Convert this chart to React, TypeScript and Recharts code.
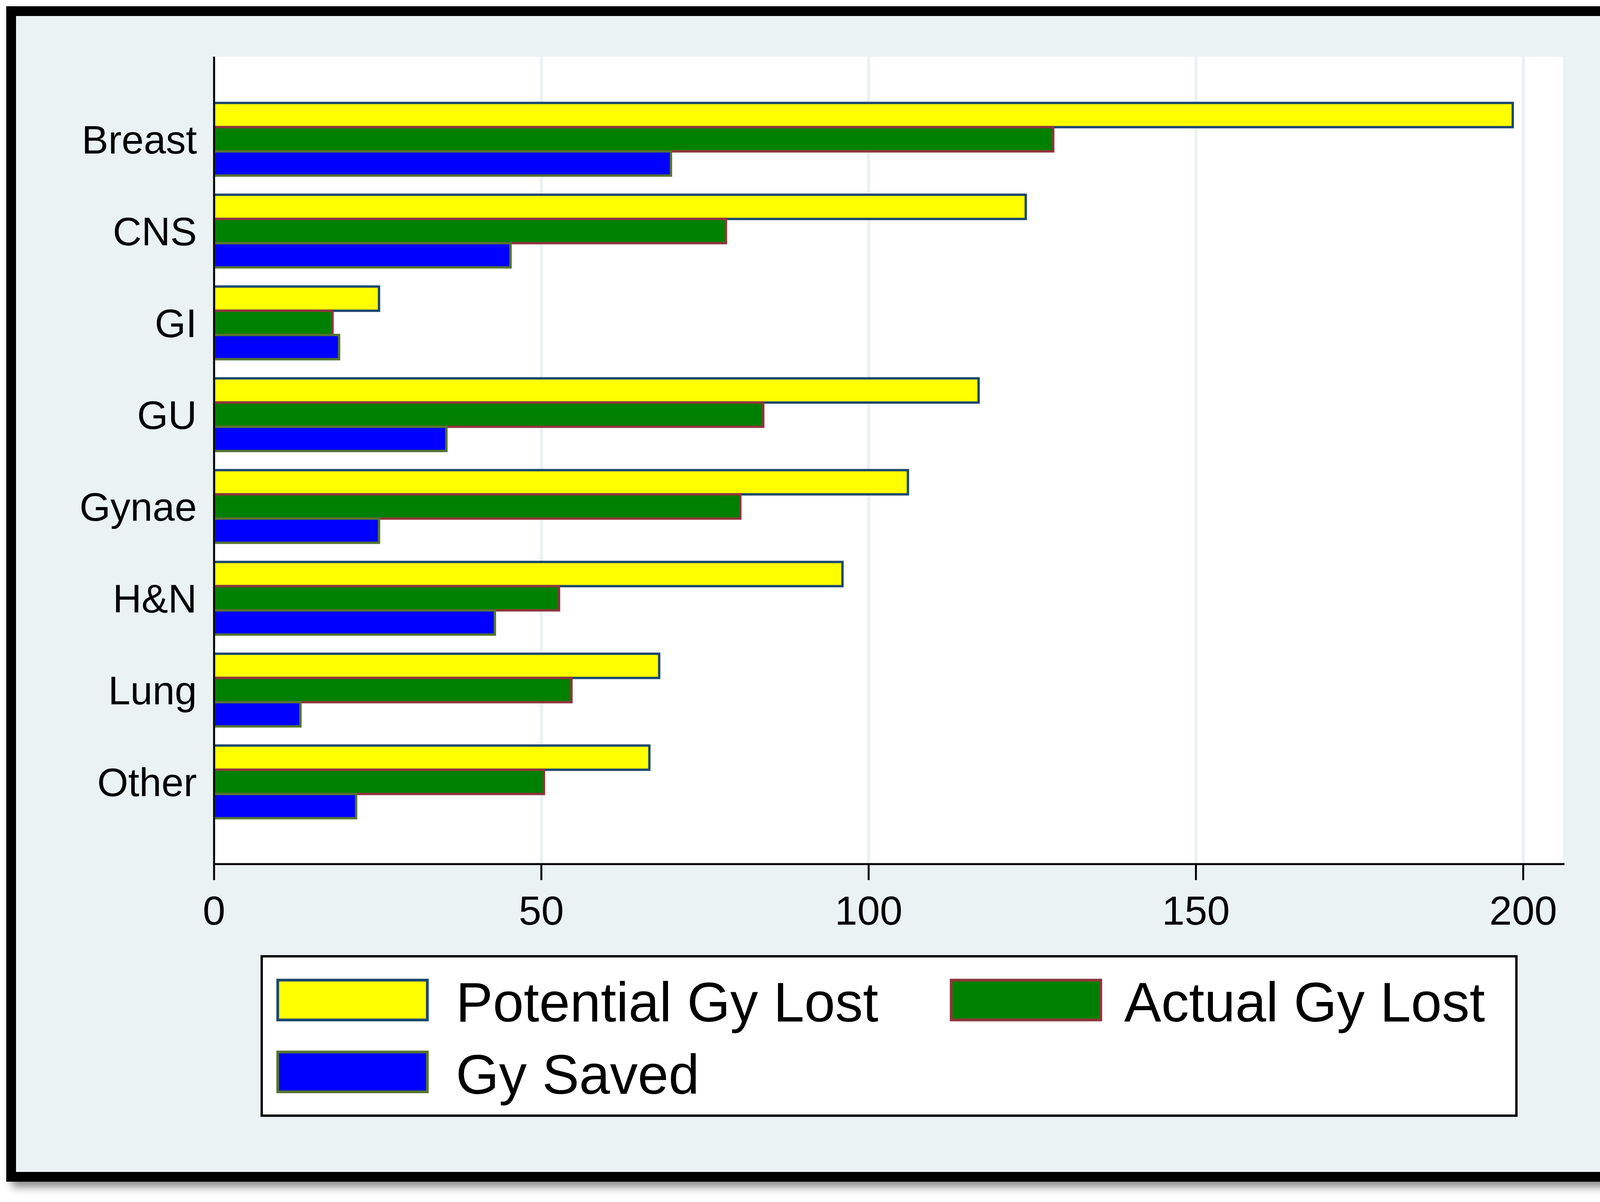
import React from "react"
import {
  BarChart,
  Bar,
  XAxis,
  YAxis,
  CartesianGrid,
  Legend,
} from "recharts"

const categories = ["Breast", "CNS", "GI", "GU", "Gynae", "H&N", "Lung", "Other"]
const potentialGyLost = [198.4, 124.0, 25.2, 116.8, 106.0, 96.0, 68.0, 66.5]
const actualGyLost = [128.2, 78.2, 18.1, 83.9, 80.4, 52.7, 54.6, 50.4]
const gySaved = [69.8, 45.3, 19.1, 35.5, 25.2, 42.9, 13.2, 21.7]
const xTicks = [0, 50, 100, 150, 200]

const FONT = '"Liberation Sans", Arial, Helvetica, sans-serif'
const BG = "#eaf2f3"

const SERIES = [
  { key: "potential", name: "Potential Gy Lost", fill: "#ffff00", stroke: "#1a476f" },
  { key: "actual", name: "Actual Gy Lost", fill: "#008000", stroke: "#90353b" },
  { key: "saved", name: "Gy Saved", fill: "#0000ff", stroke: "#55752f" },
]

const data = categories.map((name, i) => ({
  name,
  potential: potentialGyLost[i],
  actual: actualGyLost[i],
  saved: gySaved[i],
}))

// legend laid out in its own box, positions relative to the box
const legendSlots = [
  { x: 44, y: 64, tx: 500, ty: 170 },
  { x: 1768, y: 64, tx: 2211, ty: 170 },
  { x: 44, y: 248, tx: 500, ty: 355 },
]

function LegendBox() {
  return (
    <svg width={3218} height={414} style={{ display: "block" }}>
      <rect x={3} y={3} width={3212} height={408} fill="#ffffff" stroke="#000" strokeWidth={6} />
      {SERIES.map((s, i) => {
        const slot = legendSlots[i]
        return (
          <g key={s.key}>
            <rect
              x={slot.x}
              y={slot.y}
              width={383}
              height={102}
              fill={s.fill}
              stroke={s.stroke}
              strokeWidth={7}
            />
            <text x={slot.tx} y={slot.ty} fontFamily={FONT} fontSize={142} fill="#000">
              {s.name}
            </text>
          </g>
        )
      })}
    </svg>
  )
}

export default function App() {
  return (
    <div style={{ position: "absolute", left: 0, top: 0, width: 4186, height: 3077, background: "#fff" }}>
      <div
        style={{
          position: "absolute",
          left: 16,
          top: 16,
          width: 4119,
          height: 3009,
          boxSizing: "border-box",
          border: "25px solid #000",
          background: BG,
          boxShadow: "14px 14px 20px rgba(0,0,0,0.45)",
        }}
      />
      <div style={{ position: "absolute", left: 0, top: 0 }}>
        <BarChart
          width={4186}
          height={3077}
          data={data}
          layout="vertical"
          margin={{ top: 145, right: 181, left: 48, bottom: 715 }}
          barCategoryGap={24}
          barGap={0}
        >
          <CartesianGrid
            horizontal={false}
            stroke={BG}
            strokeWidth={8}
            fill="#ffffff"
            fillOpacity={1}
          />
          <XAxis
            type="number"
            domain={[0, 206.3]}
            ticks={xTicks}
            allowDataOverflow
            height={150}
            axisLine={{ stroke: "#000", strokeWidth: 5 }}
            tickLine={{ stroke: "#000", strokeWidth: 5 }}
            tickSize={41}
            tickMargin={40}
            tick={{ fontSize: 104, fontFamily: FONT, fill: "#000" }}
          />
          <YAxis
            type="category"
            dataKey="name"
            width={500}
            padding={{ top: 94.5, bottom: 92.5 }}
            axisLine={{ stroke: "#000", strokeWidth: 5 }}
            tickLine={false}
            tickSize={0}
            tickMargin={44}
            tick={{ fontSize: 102, fontFamily: FONT, fill: "#000" }}
          />
          <Legend
            layout="horizontal"
            verticalAlign="middle"
            align="center"
            wrapperStyle={{ left: 667, top: 2445, width: 3218, height: 414 }}
            content={() => <LegendBox />}
          />
          {SERIES.map((s) => (
            <Bar
              key={s.key}
              dataKey={s.key}
              name={s.name}
              fill={s.fill}
              stroke={s.stroke}
              strokeWidth={6}
              isAnimationActive={false}
            />
          ))}
        </BarChart>
      </div>
    </div>
  )
}
